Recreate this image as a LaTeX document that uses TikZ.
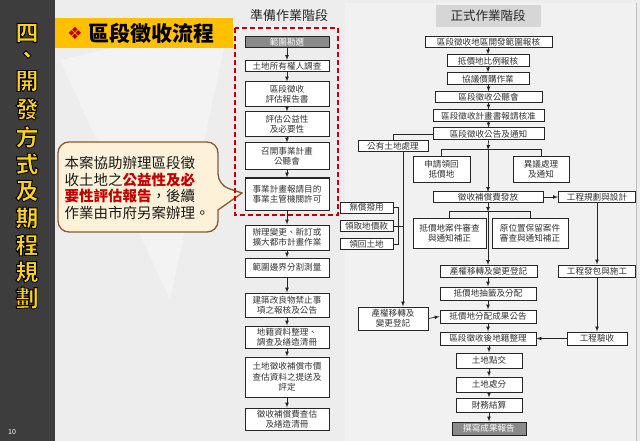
\documentclass[tikz,border=0pt]{standalone}
\usepackage{fontspec}
\setmainfont{Noto Sans CJK TC}
\newfontfamily\symfont{DejaVu Sans}
\usetikzlibrary{calc}
\definecolor{slidebg}{HTML}{EDEDED}
\definecolor{barcol}{HTML}{3D3D3D}
\definecolor{titleyellow}{HTML}{FFC000}
\definecolor{charyellow}{HTML}{FFD21F}
\definecolor{darkred}{HTML}{C00000}
\definecolor{bubblefill}{HTML}{FDF2D9}
\definecolor{bubbleline}{HTML}{8C5A2E}
\definecolor{headgray}{HTML}{D6D6D6}
\definecolor{boxgray}{HTML}{8A8A8A}
% black rim round a glyph (fill + stroke render mode)
\newcommand\outl[1]{\special{pdf:literal direct 0 0 0 RG 2 Tr 0.9 w}#1\special{pdf:literal direct 0 Tr}}
\tikzset{
    flowbox/.style={draw=black!85, fill=white, line width=1pt, align=center, inner sep=0pt,
      text=black!80, font=\fontsize{8.6}{10.4}\selectfont},
    midbox/.style={flowbox, minimum width=84pt},
    shadebox/.style={flowbox, fill=boxgray, text=white},
    link/.style={-latex, line width=0.7pt, black!85},
    wire/.style={line width=0.7pt, black!85},
}
\begin{document}
\begin{tikzpicture}[x=1pt,y=-1pt]
    \useasboundingbox (0,0) rectangle (640,441);
    \fill[slidebg] (0,0) rectangle (640,441);
    \fill[white, opacity=.35] (60,60) -- (230,20) -- (170,300) -- cycle;
    \fill[white, opacity=.25] (345,3) rectangle (636,441);
    \draw[black!25] (636,3) -- (636,441);

    % left bar
    \fill[barcol] (0,0) rectangle (55,441);
    \foreach \ch/\yy [count=\i] in {四/33,、/57,開/81,發/109,方/137,式/164,及/191,期/218,程/245,規/272,劃/298}
        \node[text=charyellow, font=\bfseries\fontsize{23}{23}\selectfont] (side\i) at (27,\yy) {\outl{\ch}};
    \node[text=white, font=\fontsize{7}{7}\selectfont] (pnum) at (12,432) {10};

    % title
    \fill[titleyellow] (55,18) rectangle (233,48);
    \node[text=darkred, font=\symfont\fontsize{17}{17}\selectfont] (mark) at (75,33) {❖};
    \node[anchor=west, font=\bfseries\fontsize{21}{21}\selectfont] (title) at (85,33) {區段徵收流程};

    % note bubble
    \draw[fill=bubblefill, draw=bubbleline, line width=1.3pt]
        (138,142) [rounded corners=11pt] -- (218,142) -- (218,185)
        [sharp corners] -- (242,193) -- (218,210)
        [rounded corners=11pt] -- (218,232) -- (58,232) -- (58,142) -- cycle;
    \node[align=left, text=black!90, font=\fontsize{14.5}{16.8}\selectfont] (note) at (137,188)
        {本案協助辦理區段徵\\收土地之{\color{darkred}\bfseries 公益性及必}\\{\color{darkred}\bfseries 要性評估報告}，後續\\作業由市府另案辦理。};

    % headings
    \node[font=\fontsize{13}{13}\selectfont, text=black!85] (phase1) at (289,16) {準備作業階段};
    \node[fill=headgray, minimum width=105pt, minimum height=22pt, font=\fontsize{12.5}{12.5}\selectfont, text=black!85] (phase2) at (488,16) {正式作業階段};

    % preparation stage
    \coordinate (j1) at (488,150);
    \coordinate (j2) at (488,212);
    \node[shadebox, minimum width=84pt, minimum height=11pt] (m1) at (287,42.5) {範圍勘選};
    \node[midbox, minimum height=11pt] (m2) at (287,66) {土地所有權人調查};
    \node[midbox, minimum height=25pt] (m3) at (287,94.5) {區段徵收\\評估報告書};
    \node[midbox, minimum height=25pt] (m4) at (287,124.5) {評估公益性\\及必要性};
    \node[midbox, minimum height=27pt] (m5) at (287,156.5) {召開事業計畫\\公聽會};
    \node[midbox, minimum height=32pt] (m6) at (287,194) {事業計畫報請目的\\事業主管機關許可};
    \node[midbox, minimum height=25pt] (m7) at (287,237.5) {辦理變更、新訂或\\擴大都市計畫作業};
    \node[midbox, minimum height=19pt] (m8) at (287,267.5) {範圍邊界分割測量};
    \node[midbox, minimum height=24pt] (m9) at (287,305) {建築改良物禁止事\\項之報核及公告};
    \node[midbox, minimum height=22pt] (m10) at (287,337) {地籍資料整理、\\調查及繕造清冊};
    \node[midbox, minimum height=40pt] (m11) at (287,377) {土地徵收補償市價\\查估資料之提送及\\評定};
    \node[midbox, minimum height=22pt] (m12) at (287,419) {徵收補償費查估\\及繕造清冊};
    \foreach \a/\b in {m1/m2,m2/m3,m3/m4,m4/m5,m5/m6,m6/m7,m7/m8,m8/m9,m9/m10,m10/m11,m11/m12}
        \draw[link] (\a.south) -- (\b.north);
    \draw[darkred, line width=2pt, dash pattern=on 5pt off 3pt] (235,28) rectangle (338,215);

    % formal stage
    \draw[link] (j1) -- (488,192);
    \draw[link] (j2) -- (488,265);
    \node[flowbox, minimum width=127pt, minimum height=11pt] (r1) at (488.5,42) {區段徵收地區開發範圍報核};
    \node[flowbox, minimum width=82pt, minimum height=12pt] (r2) at (488,61) {抵價地比例報核};
    \node[flowbox, minimum width=82pt, minimum height=12pt] (r3) at (488,79) {協議價購作業};
    \node[flowbox, minimum width=107pt, minimum height=11pt] (r4) at (488.5,97.5) {區段徵收公聽會};
    \node[flowbox, minimum width=111pt, minimum height=12pt] (r5) at (488.5,116) {區段徵收計畫書報請核准};
    \node[flowbox, minimum width=111pt, minimum height=12pt] (r6) at (488.5,134) {區段徵收公告及通知};
    \node[flowbox, minimum width=70pt, minimum height=11pt] (pub) at (393,146.5) {公有土地處理};
    \node[flowbox, minimum width=57pt, minimum height=25pt] (r7a) at (441.5,169.5) {申請領回\\抵價地};
    \node[flowbox, minimum width=56pt, minimum height=25pt] (r7b) at (541,169.5) {異議處理\\及通知};
    \node[flowbox, minimum width=110pt, minimum height=11pt] (r8) at (488,197) {徵收補償費發放};
    \node[flowbox, minimum width=77pt, minimum height=11pt] (e1) at (597,197) {工程規劃與設計};
    \node[flowbox, minimum width=53pt, minimum height=11pt] (free) at (366.5,207.5) {無償撥用};
    \node[flowbox, minimum width=53pt, minimum height=11pt] (cash) at (366.5,226) {領取地價款};
    \node[flowbox, minimum width=53pt, minimum height=11pt] (back) at (366.5,244) {領回土地};
    \node[flowbox, minimum width=73pt, minimum height=30pt] (r9a) at (449.5,233) {抵價地案件審查\\與通知補正};
    \node[flowbox, minimum width=76pt, minimum height=30pt] (r9b) at (530,233) {原位置保留案件\\審查與通知補正};
    \node[flowbox, minimum width=97pt, minimum height=12pt] (r10) at (488.5,271) {產權移轉及變更登記};
    \node[flowbox, minimum width=77pt, minimum height=12pt] (e2) at (597,271) {工程發包與施工};
    \node[flowbox, minimum width=96pt, minimum height=13pt] (r11) at (488,293.5) {抵價地抽籤及分配};
    \node[flowbox, minimum width=70pt, minimum height=23pt] (rtl) at (393,318.5) {產權移轉及\\變更登記};
    \node[flowbox, minimum width=96pt, minimum height=13pt] (r12) at (488,316.5) {抵價地分配成果公告};
    \node[flowbox, minimum width=96pt, minimum height=13pt] (r13) at (488,338.5) {區段徵收後地籍整理};
    \node[flowbox, minimum width=60pt, minimum height=13pt] (e3) at (597,338.5) {工程驗收};
    \node[flowbox, minimum width=66pt, minimum height=15pt] (r14) at (489,360.5) {土地點交};
    \node[flowbox, minimum width=66pt, minimum height=15pt] (r15) at (489,384.5) {土地處分};
    \node[flowbox, minimum width=66pt, minimum height=14pt] (r16) at (489,405) {財務結算};
    \node[shadebox, minimum width=74pt, minimum height=13pt] (r17) at (489,428.5) {撰寫成果報告};

    \foreach \a/\b in {r1/r2,r2/r3,r3/r4,r4/r5,r5/r6,r10/r11,r11/r12,r12/r13,r13/r14,r14/r15,r15/r16,r16/r17}
        \draw[link] (\a.south) -- (\a.south -| \b.north) -- (\b.north);
    \draw[link] (r6.south) -- (j1);
    \draw[wire] (r7a.north) -- ++(0,-7) -| (r7b.north);
    \draw[wire] (r6.west) -| (pub.north);
    \draw[link] (r8.east) -- (e1.west);
    \draw[link] (r8.south) -- (j2);
    \draw[wire] (r9a.north) -- ++(0,-6) -| (r9b.north);
    \draw[link] ([xshift=10pt]pub.south) -- ([xshift=10pt]rtl.north);
    \draw[wire] (free.east) -- ++(5,0) |- (back.east);
    \draw[wire] (cash.east) -- ([xshift=10pt]pub.south |- cash.east);
    \draw[link] (rtl.east) -- (r12.west);
    \draw[link] (e1.south) -- (e2.north);
    \draw[link] (e2.south) -- (e3.north);
    \draw[link] (e3.west) -- (r13.east);
\end{tikzpicture}
\end{document}
